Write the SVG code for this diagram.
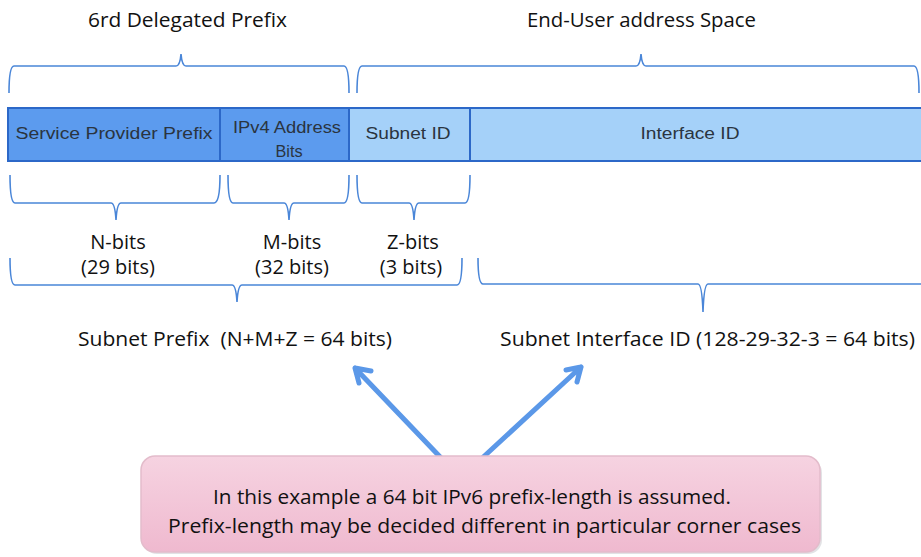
<svg xmlns="http://www.w3.org/2000/svg" width="921" height="557" viewBox="0 0 921 557">
<defs>
<style>
.t{font-family:"Open Sans","Liberation Sans",sans-serif;fill:#111;font-size:20px;}
.c{font-family:"Liberation Sans",sans-serif;font-size:16px;fill:#2a3440;text-anchor:middle;}
.br{fill:none;stroke:#4a86d8;stroke-width:1.6;}
.dark{fill:#5c9bee;stroke:#2c68c8;stroke-width:2;}
.light{fill:#a5d1f9;stroke:#2c68c8;stroke-width:2;}
.ar{stroke:#5b98e8;stroke-width:5;fill:none;stroke-linecap:round;stroke-linejoin:round;}
</style>
<linearGradient id="pk" x1="0" y1="0" x2="0" y2="1">
<stop offset="0" stop-color="#f6d3e1"/>
<stop offset="1" stop-color="#efb9cf"/>
</linearGradient>
</defs>
<rect width="921" height="557" fill="#fff"/>

<g id="titles">
<text class="t" x="88" y="27" textLength="199" lengthAdjust="spacingAndGlyphs">6rd Delegated Prefix</text>
<text class="t" x="527" y="27" textLength="229" lengthAdjust="spacingAndGlyphs">End-User address Space</text>
</g>

<g id="connectors">
<path class="br" d="M9,93 Q9,66 14,66 L176,66 Q180,66 181,54 Q182,66 186,66 L344,66 Q349,66 349,93"/>
<path class="br" d="M357,93 Q357,66 362,66 L636,66 Q640,66 641,54 Q642,66 646,66 L914,66 Q919,66 919,93"/>
<path class="br" d="M10,175 Q10,203 15,203 L111,203 Q115,203 116,220 Q117,203 121,203 L214,203 Q220,203 220,175"/>
<path class="br" d="M228,175 Q228,203 233,203 L284,203 Q288,203 289,220 Q290,203 294,203 L344,203 Q349,203 349,175"/>
<path class="br" d="M357,175 Q357,203 362,203 L409,203 Q413,203 414,220 Q415,203 419,203 L465,203 Q470,203 470,175"/>
<path class="br" d="M10,258 Q10,285 15,285 L232,285 Q236,285 237,302 Q238,285 242,285 L457,285 Q462,285 462,258"/>
<path class="br" d="M478,258 Q478,284 483,284 L698,284 Q702,284 703,312 Q704,284 708,284 L921,284"/>
<path class="ar" d="M444,461 L355,368 M371,371 L355,368 L359,383"/>
<path class="ar" d="M479,461 L581,367 M566,370 L581,367 L577,382"/>
</g>

<g id="sp">
<rect class="dark" x="8" y="108" width="212" height="53"/>
<text class="c" x="114" y="139" textLength="197" lengthAdjust="spacingAndGlyphs">Service Provider Prefix</text>
</g>
<g id="ipv4">
<rect class="dark" x="220" y="108" width="129" height="53"/>
<text class="c" x="287" y="133" textLength="108" lengthAdjust="spacingAndGlyphs">IPv4 Address</text>
<text class="c" x="289" y="157" textLength="27" lengthAdjust="spacingAndGlyphs">Bits</text>
</g>
<g id="subnet">
<rect class="light" x="349" y="108" width="121" height="53"/>
<text class="c" x="408" y="139" textLength="85" lengthAdjust="spacingAndGlyphs">Subnet ID</text>
</g>
<g id="iface">
<rect class="light" x="470" y="108" width="452" height="53"/>
<text class="c" x="690" y="139" textLength="99" lengthAdjust="spacingAndGlyphs">Interface ID</text>
</g>

<g id="labels">
<text class="t" x="118" y="249" text-anchor="middle">N-bits</text>
<text class="t" x="118" y="274" text-anchor="middle">(29 bits)</text>
<text class="t" x="292" y="249" text-anchor="middle">M-bits</text>
<text class="t" x="292" y="274" text-anchor="middle">(32 bits)</text>
<text class="t" x="413" y="249" text-anchor="middle">Z-bits</text>
<text class="t" x="411" y="274" text-anchor="middle">(3 bits)</text>
<text class="t" x="78" y="346" textLength="314" lengthAdjust="spacingAndGlyphs" xml:space="preserve">Subnet Prefix  (N+M+Z = 64 bits)</text>
<text class="t" x="500" y="346" textLength="415" lengthAdjust="spacingAndGlyphs">Subnet Interface ID (128-29-32-3 = 64 bits)</text>
</g>

<g id="note">
<rect x="143" y="459" width="679" height="95" rx="14" fill="#cfcfd4" opacity="0.6"/>
<rect x="141" y="456" width="679" height="96" rx="14" fill="url(#pk)" stroke="#e3bccb" stroke-width="1.5"/>
<text class="t" x="213" y="504" textLength="518" lengthAdjust="spacingAndGlyphs">In this example a 64 bit IPv6 prefix-length is assumed.</text>
<text class="t" x="168" y="533" textLength="633" lengthAdjust="spacingAndGlyphs">Prefix-length may be decided different in particular corner cases</text>
</g>
</svg>
